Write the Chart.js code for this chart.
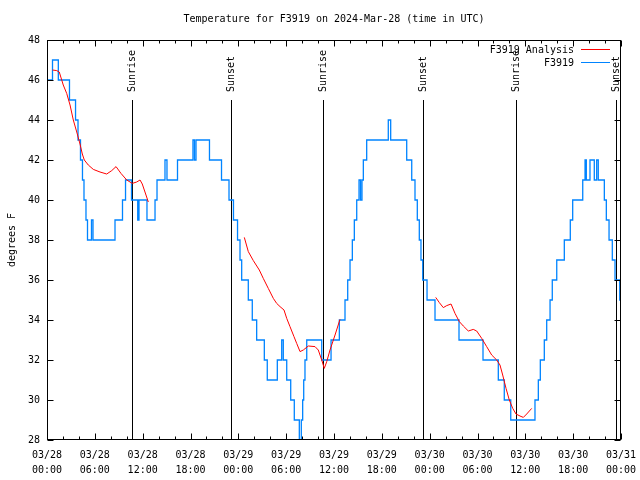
<!DOCTYPE html>
<html>
<head>
<meta charset="utf-8">
<script src="https://cdn.jsdelivr.net/npm/chart.js@4.4.1/dist/chart.umd.min.js"></script>
<style>
  html, body { margin: 0; padding: 0; background: #fff; }
  canvas { display: block; }
</style>
</head>
<body>
<canvas id="temperature-chart" width="640" height="480"></canvas>
<script>
// all times are hours since 2024-03-28 00:00 UTC
// station obs: each point is where a new reading starts (drawn as steps)
const stationHours = [
  0, 0.69, 1.42, 2.82, 3.58, 3.89, 4.20, 4.45, 4.64, 4.89,
  5.08, 5.58, 5.77, 8.53, 9.47, 9.85, 10.60, 11.38, 11.54, 12.54,
  13.55, 13.80, 14.80, 15.05, 16.37, 18.31, 18.50, 18.69, 20.38, 21.89,
  22.83, 23.39, 23.90, 24.21, 24.42, 25.25, 25.75, 26.30, 27.26, 27.63,
  28.89, 29.44, 29.64, 30.07, 30.57, 31.02, 31.65, 31.90, 32.07, 32.20,
  32.36, 32.58, 34.46, 35.63, 36.67, 37.38, 37.72, 38.01, 38.30, 38.55,
  38.85, 39.14, 39.33, 39.51, 39.68, 40.10, 42.81, 43.11, 45.12, 45.75,
  46.16, 46.45, 46.70, 46.91, 47.13, 47.67, 48.67, 51.68, 54.69, 56.61,
  57.36, 58.17, 61.21, 61.63, 61.88, 62.38, 62.68, 63.10, 63.38, 63.94,
  64.89, 65.64, 65.94, 67.20, 67.49, 67.65, 68.11, 68.65, 68.95, 69.15,
  69.91, 70.16, 70.50, 70.91, 71.25, 71.84, 72
];
const stationTemps = [
  46, 47, 46, 45, 44, 43, 42, 41, 40, 39,
  38, 39, 38, 39, 40, 41, 40, 39, 40, 39,
  40, 41, 42, 41, 42, 43, 42, 43, 42, 41,
  40, 39, 38, 37, 36, 35, 34, 33, 32, 31,
  32, 33, 32, 31, 30, 29, 28, 29, 30, 31,
  32, 33, 32, 33, 34, 35, 36, 37, 38, 39,
  40, 41, 40, 41, 42, 43, 44, 43, 42, 41,
  40, 39, 38, 37, 36, 35, 34, 33, 32, 31,
  30, 29, 30, 31, 32, 33, 34, 35, 36, 37,
  38, 39, 40, 41, 42, 41, 42, 41, 42, 41,
  40, 39, 38, 37, 36, 35, 35
];

// analysis, null = no data (gap in the line)
const analysisHours = [
  0.69, 1.22, 1.54, 2.04, 2.47, 2.89, 3.30, 3.73, 4.14, 4.43,
  4.68, 5.18, 5.81, 6.65, 7.49, 8.12, 8.66, 9.28, 10.00, 10.70,
  11.25, 11.67, 11.95, 12.29, 12.71,
  18.00,
  24.75, 25.25, 25.88, 26.63, 27.13, 27.76, 28.39, 28.81, 29.23, 29.73,
  30.07, 30.48, 30.98, 31.32, 31.74, 32.15, 32.78, 33.62, 34.03, 34.46,
  34.78, 35.09, 35.50, 36.13, 36.75,
  42.00,
  48.76, 49.21, 49.71, 50.14, 50.68, 51.18, 51.72, 52.22, 52.85, 53.47,
  53.90, 54.53, 55.15, 55.78, 56.41, 56.82, 57.16, 57.58, 57.99, 58.42,
  58.83, 59.33, 59.75, 60.17, 60.80
];
const analysisTemps = [
  46.5, 46.47, 46.4, 45.75, 45.33, 44.75, 44.0, 43.4, 42.8, 42.3,
  42.0, 41.75, 41.53, 41.4, 41.3, 41.47, 41.67, 41.33, 41.0, 40.83,
  40.9, 41.0, 40.8, 40.4, 39.9,
  null,
  38.13, 37.42, 36.97, 36.5, 36.08, 35.58, 35.08, 34.83, 34.67, 34.5,
  34.08, 33.67, 33.17, 32.83, 32.42, 32.5, 32.7, 32.67, 32.5, 32.0,
  31.58, 31.92, 32.5, 33.25, 34.03,
  null,
  35.13, 34.87, 34.62, 34.72, 34.8, 34.33, 33.92, 33.7, 33.45, 33.53,
  33.45, 33.08, 32.67, 32.25, 32.0, 31.75, 31.25, 30.58, 30.0, 29.58,
  29.3, 29.2, 29.13, 29.3, 29.58
];

const sunHours = [10.70, 23.12, 34.66, 47.20, 58.79, 71.34];
const sunLabels = ['Sunrise', 'Sunset', 'Sunrise', 'Sunset', 'Sunrise', 'Sunset'];

const xTickLabels = [
  ['03/28', '00:00'], ['03/28', '06:00'], ['03/28', '12:00'], ['03/28', '18:00'],
  ['03/29', '00:00'], ['03/29', '06:00'], ['03/29', '12:00'], ['03/29', '18:00'],
  ['03/30', '00:00'], ['03/30', '06:00'], ['03/30', '12:00'], ['03/30', '18:00'],
  ['03/31', '00:00']
];

const seriesNames = ['F3919 Analysis', 'F3919'];
const seriesColors = ['#ff0000', 'rgb(0, 132, 255)'];

const FONT = { family: '"DejaVu Sans Mono", monospace', size: 10 };
const fontCss = '10px "DejaVu Sans Mono", monospace';

// gnuplot look: sun lines, box border, inward ticks, key in the corner
const gnuplotDecor = {
  id: 'gnuplotDecor',
  beforeDatasetsDraw(chart) {
    const { ctx, chartArea, scales: { x, y } } = chart;
    ctx.save();
    ctx.strokeStyle = '#000';
    ctx.fillStyle = '#000';
    ctx.lineWidth = 1;
    ctx.font = fontCss;
    const lineTop = y.getPixelForValue(45);
    sunHours.forEach((h, i) => {
      const px = Math.round(x.getPixelForValue(h)) + 0.5;
      ctx.beginPath();
      ctx.moveTo(px, lineTop);
      ctx.lineTo(px, chartArea.bottom);
      ctx.stroke();
      ctx.save();
      ctx.translate(px, lineTop - 8);
      ctx.rotate(-Math.PI / 2);
      ctx.textAlign = 'left';
      ctx.textBaseline = 'middle';
      ctx.fillText(sunLabels[i], 0, 0);
      ctx.restore();
    });
    ctx.restore();
  },
  afterDatasetsDraw(chart) {
    const { ctx, chartArea: a, scales: { x, y } } = chart;
    ctx.save();
    ctx.strokeStyle = '#000';
    ctx.lineWidth = 1;
    const L = Math.round(a.left) + 0.5, R = Math.round(a.right) - 0.5;
    const T = Math.round(a.top) + 0.5, B = Math.round(a.bottom) - 0.5;
    ctx.strokeRect(L, T, R - L, B - T);

    ctx.beginPath();
    for (let h = 0; h <= 72; h += 2) {
      const px = Math.round(x.getPixelForValue(h)) + 0.5;
      const len = h % 6 === 0 ? 6 : 3;
      ctx.moveTo(px, B); ctx.lineTo(px, B - len);
      ctx.moveTo(px, T); ctx.lineTo(px, T + len);
    }
    for (let v = 28; v <= 48; v += 2) {
      const py = Math.round(y.getPixelForValue(v)) + 0.5;
      ctx.moveTo(L, py); ctx.lineTo(L + 6, py);
      ctx.moveTo(R, py); ctx.lineTo(R - 6, py);
    }
    ctx.stroke();

    // key
    ctx.font = fontCss;
    ctx.fillStyle = '#000';
    ctx.textAlign = 'right';
    ctx.textBaseline = 'middle';
    seriesNames.forEach((name, i) => {
      const ty = a.top + 10 + i * 13;
      ctx.fillText(name, a.right - 47, ty);
      ctx.strokeStyle = seriesColors[i];
      ctx.beginPath();
      ctx.moveTo(a.right - 40, Math.round(ty) - 0.5);
      ctx.lineTo(a.right - 11, Math.round(ty) - 0.5);
      ctx.stroke();
    });
    ctx.restore();
  }
};

new Chart(document.getElementById('temperature-chart'), {
  type: 'line',
  data: {
    datasets: [{
      label: seriesNames[0],
      data: analysisHours.map((h, i) => ({ x: h, y: analysisTemps[i] })),
      borderColor: seriesColors[0],
      borderWidth: 1,
      pointRadius: 0,
      spanGaps: false,
      tension: 0
    }, {
      label: seriesNames[1],
      data: stationHours.map((h, i) => ({ x: h, y: stationTemps[i] })),
      borderColor: seriesColors[1],
      borderWidth: 1.3,
      pointRadius: 0,
      stepped: true
    }]
  },
  options: {
    responsive: false,
    animation: false,
    layout: { padding: { left: 0, right: 19, top: 0, bottom: 0 } },
    plugins: {
      legend: { display: false },
      tooltip: { enabled: false },
      title: {
        display: true,
        fullSize: false,
        text: 'Temperature for F3919 on 2024-Mar-28 (time in UTC)',
        color: '#000',
        font: { ...FONT, weight: 'normal' },
        padding: { top: 13, bottom: 15 }
      }
    },
    scales: {
      x: {
        type: 'linear',
        min: 0,
        max: 72,
        grid: { display: false, drawTicks: false },
        border: { display: false },
        ticks: {
          stepSize: 6,
          autoSkip: false,
          maxRotation: 0,
          padding: 8,
          color: '#000',
          font: { ...FONT, lineHeight: 1.5 },
          callback: v => xTickLabels[Math.round(v / 6)]
        },
        afterFit: s => {
          s.height = 40;
          s.paddingLeft = 0;
          s.paddingRight = 0;
        }
      },
      y: {
        min: 28,
        max: 48,
        grid: { display: false, drawTicks: false },
        border: { display: false },
        ticks: { stepSize: 2, padding: 7, color: '#000', font: FONT },
        title: {
          display: true,
          text: 'degrees F',
          color: '#000',
          font: FONT,
          padding: { top: 6, bottom: 0 }
        },
        afterFit: s => { s.width = 47; }
      }
    }
  },
  plugins: [gnuplotDecor]
});
</script>
</body>
</html>
